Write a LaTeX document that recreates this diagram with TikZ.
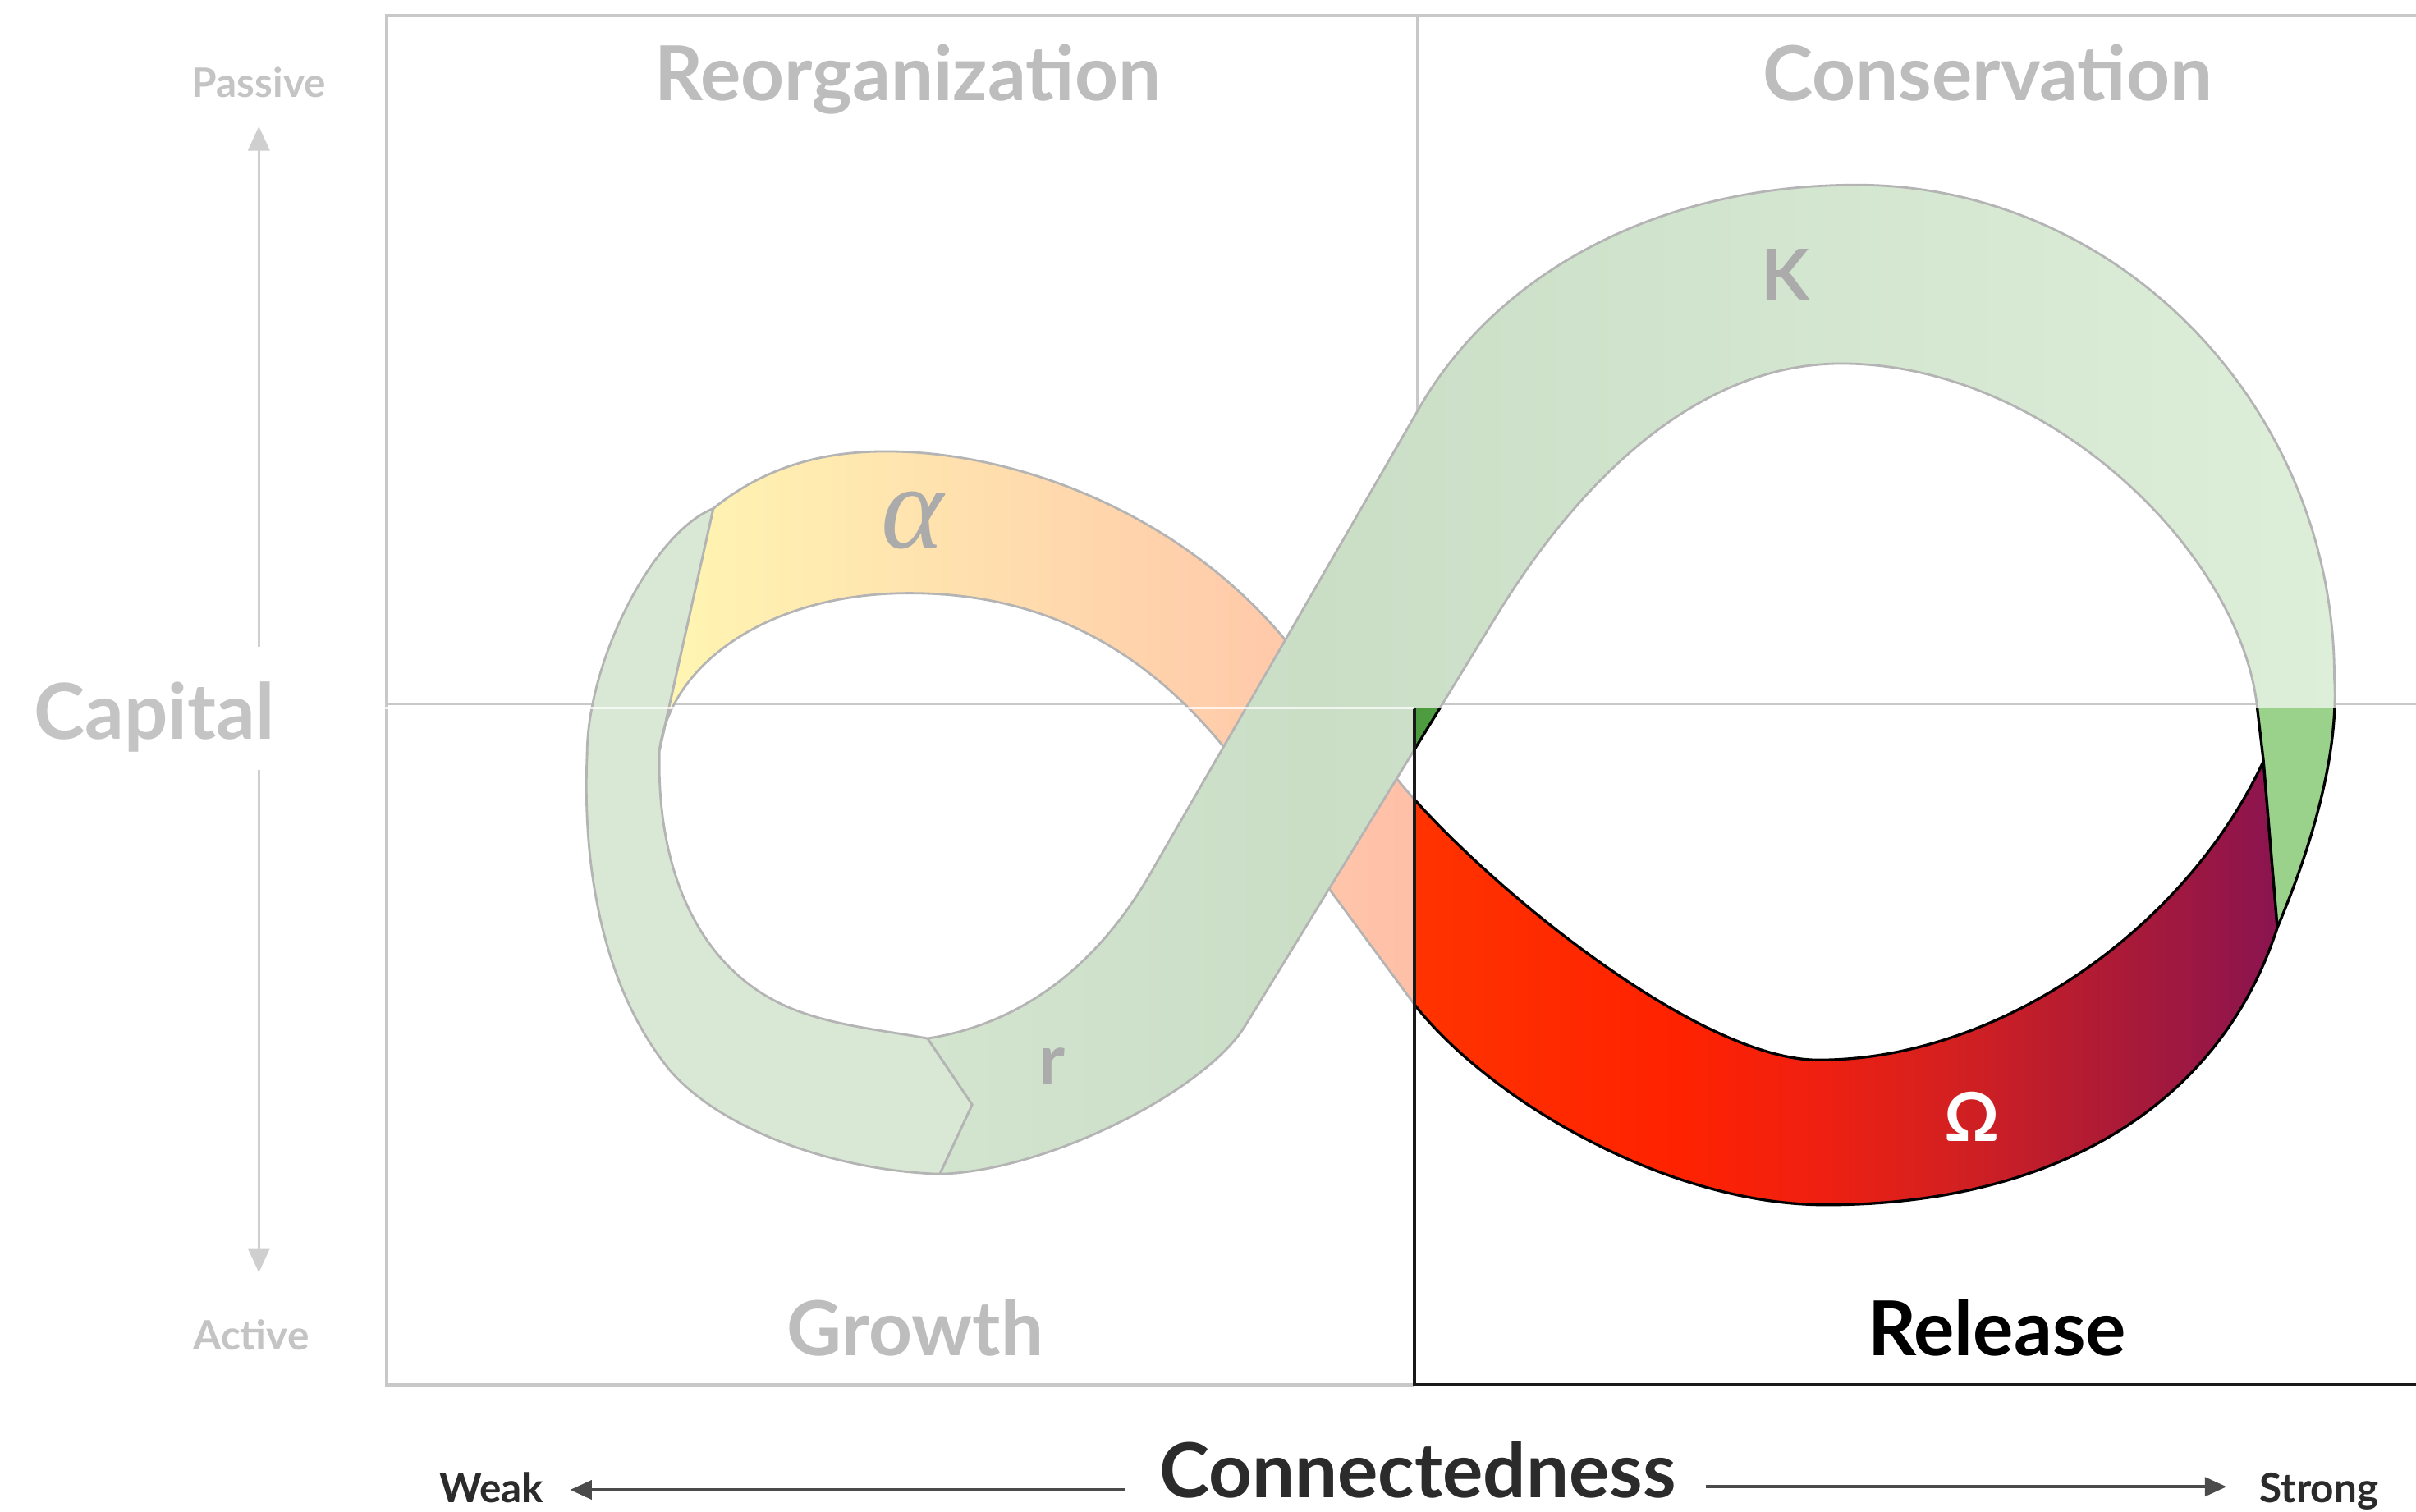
\documentclass[tikz,border=0pt]{standalone}
\usepackage{fontspec}
\setmainfont{Lato}
\newfontfamily\greekserif{Liberation Serif}
\usetikzlibrary{arrows.meta}

\definecolor{framegray}{HTML}{C8C8C8}
\definecolor{headgray}{HTML}{BDBDBD}
\definecolor{capgray}{HTML}{C4C4C4}
\definecolor{axisgray}{HTML}{CFCFCF}
\definecolor{darktxt}{HTML}{2B2B2B}
\definecolor{lblgray}{HTML}{ABABAB}
\definecolor{edgegray}{HTML}{B4B4B4}
% faded colours
\definecolor{fadeYellow}{HTML}{FFF6B2}
\definecolor{fadePeach}{HTML}{FDE2B2}
\definecolor{fadeSalmon}{HTML}{FFBFA8}
\definecolor{fadeGreenL}{HTML}{D8E8D4}
\definecolor{fadeGreenA}{HTML}{D3E4CF}
\definecolor{fadeGreenD}{HTML}{CADEC6}
\definecolor{fadeGreenR}{HTML}{DDEED9}
% release colours
\definecolor{omegaA}{HTML}{FF3300}
\definecolor{omegaB}{HTML}{FF2200}
\definecolor{omegaC}{HTML}{F02010}
\definecolor{omegaD}{HTML}{D42020}
\definecolor{omegaE}{HTML}{AA1A38}
\definecolor{omegaF}{HTML}{8A1450}
\definecolor{greenD}{HTML}{4D9B3F}
\definecolor{greenB}{HTML}{9AD28B}

\pgfdeclarehorizontalshading{omegashade}{100bp}{color(0bp)=(omegaA); color(25bp)=(omegaA); color(40bp)=(omegaB); color(48bp)=(omegaC); color(56bp)=(omegaD); color(66bp)=(omegaE); color(75bp)=(omegaF); color(100bp)=(omegaF)}

\tikzset{
  headtxt/.style={anchor=base, text=headgray, font=\bfseries\fontsize{28}{32}\selectfont, inner sep=0pt},
  smalltxt/.style={anchor=base, text=capgray, font=\bfseries\fontsize{15}{18}\selectfont, inner sep=0pt},
  phase/.style={text=lblgray, font=\bfseries\fontsize{26}{30}\selectfont, inner sep=0pt},
  frameline/.style={draw=framegray, line width=1.3pt},
  midline/.style={draw=framegray, line width=0.8pt},
  fadedge/.style={draw=edgegray, line width=0.85pt, line join=round},
  blackedge/.style={draw=black, line width=1pt, line join=round},
  vaxis/.style={draw=axisgray, line width=0.8pt, -{Triangle[length=9pt, width=8pt]}},
  haxis/.style={draw=darktxt!85, line width=1.1pt, -{Triangle[length=8pt, width=7pt]}}
}

% alpha band running on into the omega band
\def\cyclepath{(463,330) .. controls (500,300) and (540,293) .. (575,293) .. controls (660,293) and (765,333) .. (833,414) -- (907,506) .. controls (957,568) and (1100,688) .. (1180,688) .. controls (1300,688) and (1420,600) .. (1469,494) -- (1478,602) .. controls (1440,720) and (1330,782) .. (1185,782) .. controls (1080,782) and (965,712) .. (918,652) -- (800,492) .. controls (740,415) and (670,385) .. (590,385) .. controls (500,385) and (435,430) .. (428,487) -- cycle}

% r band rising along the diagonal into the K arch
\def\kpath{(602,674) -- (631,717) -- (610,762) .. controls (680,760) and (782,708) .. (808,666) -- (971,400) .. controls (1018,323) and (1095,236) .. (1195,236) .. controls (1330,236) and (1455,360) .. (1465,460) -- (1469,494) -- (1478,602) .. controls (1500,550) and (1518,490) .. (1515,440) .. controls (1515,264) and (1375,120) .. (1205,120) .. controls (1075,120) and (971,178) .. (921,265) -- (746,568) .. controls (710,630) and (660,665) .. (602,674) -- cycle}

% lower left loop between r and alpha
\def\lpath{(602,674) -- (631,717) -- (610,762) .. controls (545,760) and (470,735) .. (435,695) .. controls (390,640) and (378,560) .. (381,490) .. controls (381,430) and (423,346) .. (463,330) -- (428,487) .. controls (426,560) and (450,620) .. (500,648) .. controls (530,665) and (570,668) .. (602,674) -- cycle}

\begin{document}
\begin{tikzpicture}[x=0.02cm, y=-0.02cm]
\useasboundingbox (0,0) rectangle (1568,981);
\fill[white] (0,0) rectangle (1568,981);

% quadrant frame
\draw[frameline] (1568,10) -- (251,10) -- (251,899) -- (918,899);
\draw[midline] (920,10) -- (920,457);
\draw[midline] (251,457) -- (1568,457);

% faded bands
\fill[fadeGreenL] \lpath;
\draw[fadedge] \lpath;

\begin{scope}
  \clip \cyclepath;
  \shade[left color=fadeYellow, middle color=fadePeach, right color=fadeSalmon] (428,280) rectangle (918,800);
\end{scope}
\draw[fadedge] \cyclepath;

\begin{scope}
  \clip \kpath;
  \shade[left color=fadeGreenA, right color=fadeGreenD] (600,100) rectangle (850,780);
  \shade[left color=fadeGreenD, right color=fadeGreenR] (850,100) rectangle (1520,780);
\end{scope}
\draw[fadedge] \kpath;

% release quadrant in full colour
\begin{scope}
  \clip (918,460) rectangle (1600,905);
  \fill[white] (918,460) rectangle (1600,905);
  \begin{scope}
    \clip \cyclepath;
    \shade[shading=omegashade] (918,480) rectangle (1480,800);
  \end{scope}
  \draw[blackedge] \cyclepath;
  \begin{scope}
    \clip \kpath;
    \shade[left color=greenD, right color=greenB] (918,400) rectangle (1470,620);
    \fill[greenB] (1470,400) rectangle (1530,620);
  \end{scope}
  \draw[blackedge] \kpath;
\end{scope}
\draw[draw=black!90, line width=1.2pt] (918,460) -- (918,899) -- (1568,899);

% light seam along the capital axis
\draw[white, opacity=0.75, line width=1.1pt] (15,459.5) -- (918,459.5);

% phase labels
\node[text=lblgray, font=\greekserif\itshape\fontsize{44}{44}\selectfont, inner sep=0pt] (alph) at (592,338) {α};
\node[phase] (kay) at (1159,178) {K};
\node[phase] (arr) at (683,692) {r};
\node[phase, text=white, font=\bfseries\fontsize{25}{28}\selectfont] (omg) at (1280,725) {Ω};

% quadrant titles
\node[headtxt] (reorg) at (589,65) {Reorganization};
\node[headtxt] (cons) at (1290,65) {Conservation};
\node[headtxt] (grow) at (594,880) {Growth};
\node[headtxt, text=black] (rel) at (1296,880) {Release};

% capital axis
\node[headtxt, text=capgray, font=\bfseries\fontsize{28.5}{32}\selectfont] (cap) at (100,480) {Capital};
\node[smalltxt] (pas) at (168,63) {Passive};
\node[smalltxt] (act) at (163,876) {Active};
\coordinate (vtop) at (168,82);
\coordinate (vup) at (168,420);
\coordinate (vdn) at (168,500);
\coordinate (vbot) at (168,826);
\draw[vaxis] (vup) -- (vtop);
\draw[vaxis] (vdn) -- (vbot);

% connectedness axis
\node[smalltxt, text=darktxt] (weak) at (319,975) {Weak};
\node[headtxt, text=darktxt] (conn) at (920,972) {Connectedness};
\node[smalltxt, text=darktxt] (strong) at (1505,975) {Strong};
\coordinate (hl) at (370,967);
\coordinate (hla) at (730,967);
\coordinate (hrb) at (1107,965);
\coordinate (hr) at (1445,965);
\draw[haxis] (hla) -- (hl);
\draw[haxis] (hrb) -- (hr);
\end{tikzpicture}
\end{document}
